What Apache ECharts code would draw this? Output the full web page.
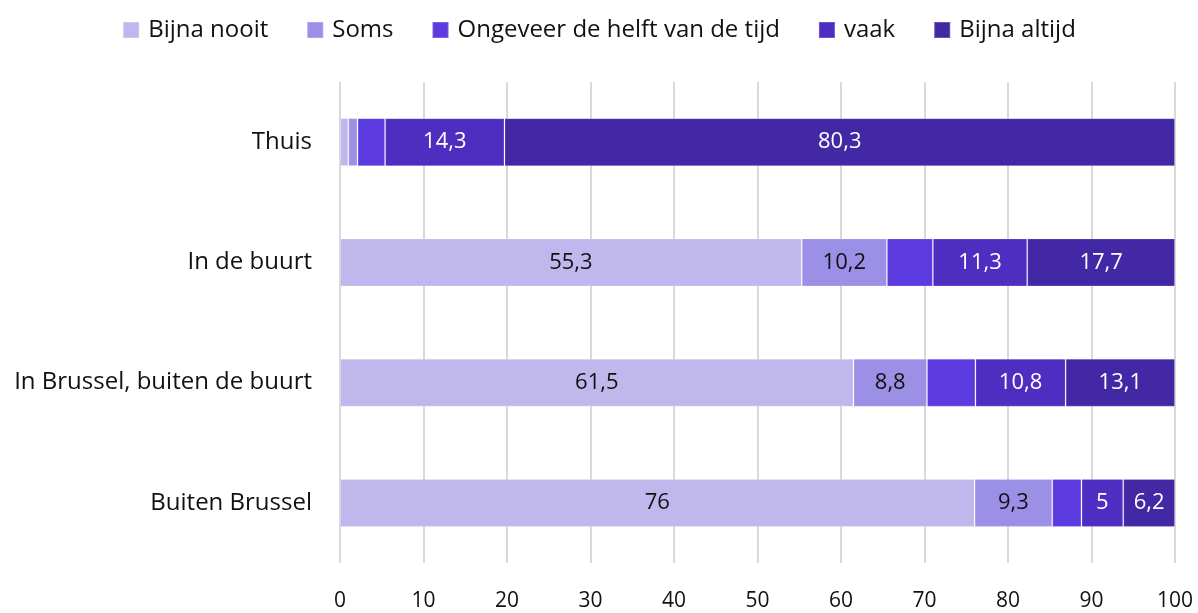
<!DOCTYPE html>
<html>
<head>
<meta charset="utf-8">
<script src="https://cdn.jsdelivr.net/npm/echarts@6/dist/echarts.min.js"></script>
<style>
  html, body { margin: 0; padding: 0; background: #fff; }
  #main { width: 1198px; height: 613px; }
</style>
</head>
<body>
<div id="main"></div>
<script>
  // categories, top to bottom
  var categories = ['Thuis', 'In de buurt', 'In Brussel, buiten de buurt', 'Buiten Brussel']
  var seriesNames = ['Bijna nooit', 'Soms', 'Ongeveer de helft van de tijd', 'vaak', 'Bijna altijd']
  var bijnaNooit = [1.0, 55.3, 61.5, 76]
  var soms = [1.1, 10.2, 8.8, 9.3]
  var ongeveer = [3.3, 5.5, 5.8, 3.5]
  var vaak = [14.3, 11.3, 10.8, 5]
  var bijnaAltijd = [80.3, 17.7, 13.1, 6.2]
  var xTicks = [0, 10, 20, 30, 40, 50, 60, 70, 80, 90, 100]

  var colors = ['#c0b8ec', '#9b8fe6', '#5b3adf', '#4d2ec0', '#4228a5']
  var labelColors = ['#111', '#111', '#fff', '#fff', '#fff']
  var allData = [bijnaNooit, soms, ongeveer, vaak, bijnaAltijd]
  var font = '"Open Sans", Lato, sans-serif'

  var myChart = echarts.init(document.getElementById('main'))

  var series = seriesNames.map(function (name, i) {
    return {
      name: name,
      type: 'bar',
      stack: 'total',
      barWidth: 48,
      data: allData[i],
      itemStyle: {
        color: colors[i],
        borderColor: 'rgba(255,255,255,0.2)',
        borderWidth: 1
      },
      label: {
        show: i !== 2,
        position: 'inside',
        color: labelColors[i],
        fontFamily: font,
        fontSize: 22,
        formatter: function (p) {
          if (p.value < 5) return ''
          return String(p.value).replace('.', ',')
        }
      }
    }
  })

  var option = {
    animation: false,
    legend: {
      top: 13,
      left: 'center',
      itemWidth: 16,
      itemHeight: 16,
      itemGap: 38,
      icon: 'rect',
      textStyle: { fontFamily: font, fontSize: 24, color: '#111', padding: [0, 0, 0, 4] },
      data: seriesNames
    },
    grid: {
      left: 340,
      right: 23,
      top: 82,
      bottom: 50,
      containLabel: false
    },
    xAxis: {
      type: 'value',
      min: xTicks[0],
      max: xTicks[xTicks.length - 1],
      interval: 10,
      axisLine: { show: false },
      axisTick: { show: false },
      splitLine: { show: true, lineStyle: { color: '#d9d9d9', width: 2 } },
      axisLabel: { margin: 28, fontFamily: font, fontSize: 21, color: '#111' }
    },
    yAxis: {
      type: 'category',
      inverse: true,
      data: categories,
      axisLine: { show: false },
      axisTick: { show: false },
      axisLabel: { margin: 28, fontFamily: font, fontSize: 24, color: '#111' }
    },
    series: series
  }

  myChart.setOption(option)
</script>
</body>
</html>
